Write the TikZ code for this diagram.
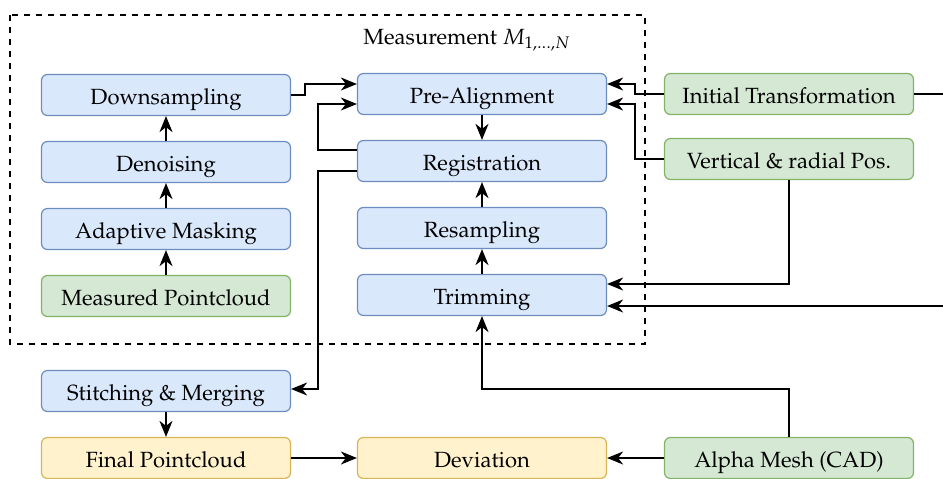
\documentclass[tikz,border=0pt]{standalone}
\usepackage[T1]{fontenc}
\usepackage{mathpazo}
\usepackage{tikz}
\usetikzlibrary{arrows.meta, positioning}
\definecolor{bluefill}{HTML}{DAE8FC}
\definecolor{bluedraw}{HTML}{6C8EBF}
\definecolor{greenfill}{HTML}{D5E8D4}
\definecolor{greendraw}{HTML}{82B366}
\definecolor{yellowfill}{HTML}{FFF2CC}
\definecolor{yellowdraw}{HTML}{D6B656}
\tikzset{>={Stealth[length=8pt,width=6.5pt,inset=2.5pt]}}
\tikzset{
  stepnode/.style={rounded corners=3pt, line width=0.6pt, minimum width=124.5pt,
    minimum height=20.5pt, inner sep=0pt, text height=11pt, text depth=2pt,
    font=\fontsize{11}{13}\selectfont},
  bluebox/.style={stepnode, fill=bluefill, draw=bluedraw},
  greenbox/.style={stepnode, fill=greenfill, draw=greendraw},
  yellowbox/.style={stepnode, fill=yellowfill, draw=yellowdraw},
}

\begin{document}
\begin{tikzpicture}[x=0.5pt, y=-0.5pt, line width=0.9pt]
		\useasboundingbox (0,0) rectangle (943,478);
		\draw [dashed, line width=0.6pt] (10,15) rectangle (645,344);
		\node (Lbl) at (467,40) {\fontsize{11}{13}\selectfont Measurement $M_{1,\dots,N}$};
		\node [bluebox] (Down) at (166,95) {Downsampling};
		\node [bluebox] (Den) at (166,162) {Denoising};
		\node [bluebox] (Mask) at (166,229) {Adaptive Masking};
		\node [greenbox] (Meas) at (166,296) {Measured Pointcloud};
		\node [bluebox] (Stitch) at (166,391) {Stitching \& Merging};
		\node [yellowbox] (Final) at (166,458) {Final Pointcloud};
		\node [bluebox] (Pre) at (482,94) {Pre-Alignment};
		\node [bluebox] (Reg) at (482,161) {Registration};
		\node [bluebox] (Res) at (482,228) {Resampling};
		\node [bluebox] (Trim) at (482,295) {Trimming};
		\node [yellowbox] (Dev) at (482,458) {Deviation};
		\node [greenbox] (Init) at (789,94) {Initial Transformation};
		\node [greenbox] (Vert) at (789,159) {Vertical \& radial Pos.};
		\node [greenbox] (Alpha) at (789,458) {Alpha Mesh (CAD)};
		\coordinate (E1) at (943,94);
		\coordinate (E2) at (943,306);
		\draw [->] (Meas) -- (Mask); \draw [->] (Mask) -- (Den); \draw [->] (Den) -- (Down);
		\draw [->] (Down.east) -- ++(14,0) |- ([yshift=5pt]Pre.west);
		\draw [->] ([yshift=5.5pt]Reg.west) -- ++(-39,0) |- ([yshift=-5pt]Pre.west);
		\draw [->] ([yshift=-5pt]Reg.west) -- ++(-39,0) |- ([yshift=1pt]Stitch.east);
		\draw [->] (Pre) -- (Reg); \draw [->] (Res) -- (Reg); \draw [->] (Trim) -- (Res);
		\draw [->] (Init.west) -- ++(-29,0) |- ([yshift=5pt]Pre.east);
		\draw [->] (Vert.west) -- ++(-29,0) |- ([yshift=-5pt]Pre.east);
		\draw (Init.east) -- (E1);
		\draw [->] (Vert.south) |- ([yshift=5.5pt]Trim.east);
		\draw [->] (E2) -- ([yshift=-5.5pt]Trim.east);
		\draw [->] (Alpha.north) -- ++(0,-48) -| (Trim.south);
		\draw [->] (Alpha) -- (Dev); \draw [->] (Final) -- (Dev);
		\draw [->] (Stitch) -- (Final);
\end{tikzpicture}
\end{document}
